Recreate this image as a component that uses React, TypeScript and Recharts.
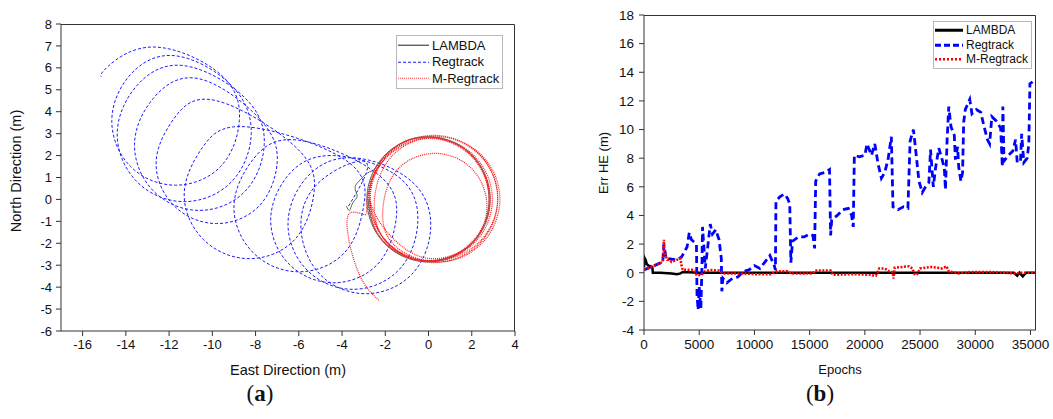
import React from "react";
import { Legend, Line, LineChart, XAxis, YAxis } from "recharts";

// (a) horizontal trajectory, metres
const EAST_TICKS = [-16, -14, -12, -10, -8, -6, -4, -2, 0, 2, 4];
const NORTH_TICKS = [-6, -5, -4, -3, -2, -1, 0, 1, 2, 3, 4, 5, 6, 7, 8];

const LAMBDA_E = [-3.8, -3.65, -3.5, -3.3, -3.4, -3.15, -2.9, -2.6, -2.47, -1.43, 0, 1.43, 2.47, 2.85, 2.47, 1.43, 0, -1.43, -2.47, -2.85, -2.47, -1.43, 0, 1.43, 2.45, 2.8, 2.45, 1.4, 0, -1.4, -2.45, -2.8];
const LAMBDA_N = [-0.3, -0.5, -0.15, 0.15, 0.55, 0.9, 1.15, 1.3, 1.43, 2.47, 2.85, 2.47, 1.43, 0, -1.43, -2.47, -2.85, -2.47, -1.43, 0, 1.43, 2.47, 2.85, 2.47, 1.4, 0, -1.4, -2.45, -2.8, -2.45, -1.4, 0];

const REG_E = [
  -3.7, -2.9, -5.02, -5.9, -5.02, -2.9, -0.78, 0.1, -0.78,
  -3.5, -5.62, -6.5, -5.62, -3.5, -1.38, -0.5, -1.38,
  -4.4, -6.45, -7.3, -6.45, -4.4, -2.35, -1.5, -2.35,
  -6.0, -8.12, -9.0, -8.12, -6.0, -3.88, -3.0, -3.88,
  -8.3, -10.42, -11.3, -10.42, -8.3, -6.18, -5.3, -6.18,
  -9.8, -11.78, -12.6, -11.78, -9.8, -7.82, -7.0, -7.82,
  -10.6, -12.72, -13.6, -12.72, -10.6, -8.48, -7.6, -8.48,
  -11.3, -13.49, -14.4, -13.49, -11.3, -9.11, -8.2, -9.11,
  -11.7, -13.79, -14.65, -13.79, -11.7, -9.61, -8.75, -9.61,
  -12.7, -14.82, -15.15,
];
const REG_N = [
  -0.3, 1.7, 0.82, -1.3, -3.42, -4.3, -3.42, -1.3, 0.82,
  1.9, 1.02, -1.1, -3.22, -4.1, -3.22, -1.1, 1.02,
  2.0, 1.15, -0.9, -2.95, -3.8, -2.95, -0.9, 1.15,
  2.7, 1.82, -0.3, -2.42, -3.3, -2.42, -0.3, 1.82,
  3.3, 2.42, 0.3, -1.82, -2.7, -1.82, 0.3, 2.42,
  4.5, 3.68, 1.7, -0.28, -1.1, -0.28, 1.7, 3.68,
  5.5, 4.62, 2.5, 0.38, -0.5, 0.38, 2.5, 4.62,
  6.1, 5.19, 3.0, 0.81, -0.1, 0.81, 3.0, 5.19,
  6.55, 5.69, 3.6, 1.51, 0.65, 1.51, 3.6, 5.69,
  6.95, 6.07, 5.6,
];

const MREG_E = [
  -2.3, -3.0, -3.5, -3.75, -3.6, -2.9,
  -2.85, -2.0, 0, 2.0, 2.85, 2.0, 0, -2.0,
  -2.8, -1.92, 0.2, 2.32, 3.2, 2.32, 0.2, -1.92,
  -2.5, -1.65, 0.4, 2.45, 3.3, 2.45, 0.4, -1.65,
  -2.1, -1.4, 0.3, 2.0, 2.7, 2.0, 0.3, -1.4,
  -2.7, -1.9, 0.05, 2.0, 2.8, 2.0, 0.05, -1.9,
  -2.7, -1.84, 0.25, 2.34, 3.2, 2.34, 0.25, -1.84,
  -2.75, -1.92, 0.1, 2.12, 2.95, 2.12, 0.1, -1.92, -2.75,
];
const MREG_N = [
  -4.6, -3.8, -2.6, -1.4, -0.6, -0.7,
  0, 2.0, 2.82, 2.0, 0, -2.0, -2.82, -2.0,
  0.05, 2.07, 2.9, 2.07, 0.05, -1.97, -2.8, -1.97,
  0, 2.02, 2.85, 2.02, 0, -2.02, -2.85, -2.02,
  -0.3, 1.4, 2.1, 1.4, -0.3, -2.0, -2.7, -2.0,
  0, 1.95, 2.78, 1.95, 0, -1.95, -2.78, -1.95,
  0.02, 2.07, 2.92, 2.07, 0.02, -2.03, -2.88, -2.03,
  0, 1.98, 2.8, 1.98, 0, -1.98, -2.8, -1.98, 0.05,
];

// (b) horizontal error against epoch
const EPOCH_TICKS = [0, 5000, 10000, 15000, 20000, 25000, 30000, 35000];
const ERR_TICKS = [-4, -2, 0, 2, 4, 6, 8, 10, 12, 14, 16, 18];

const LAMBDA_EPOCH = [0, 80, 150, 250, 400, 600, 750, 800, 1500, 2500, 3000, 3300, 3500, 5000, 10000, 15000, 20000, 25000, 30000, 33500, 33800, 34000, 34300, 34600, 35500];
const LAMBDA_ERR = [0.4, 1.0, 0.9, 0.6, 0.5, 0.45, 0.4, 0.0, 0.0, -0.05, -0.1, -0.05, 0.05, 0.0, 0.0, 0.0, 0.0, 0.0, 0.0, 0.0, -0.2, 0.0, -0.25, 0.0, 0.0];

const REG_EPOCH = [0, 1700, 1800, 2000, 3000, 3400, 3900, 4100, 4300, 4600, 4750, 4800, 4900, 5000, 5150, 5250, 5300, 5450, 5550, 5800, 6000, 6200, 6500, 6800, 7000, 7050, 7150, 7500, 8000, 8500, 9000, 9500, 10000, 10500, 11000, 11400, 11800, 11900, 11950, 12300, 12700, 13000, 13200, 13300, 13450, 14000, 14500, 15000, 15300, 15450, 15550, 15900, 16400, 16800, 16900, 17000, 17500, 18000, 18500, 18800, 18950, 19050, 19500, 20000, 20200, 20600, 20900, 21200, 21500, 21800, 22100, 22400, 22550, 23000, 23500, 23900, 24100, 24400, 24600, 24900, 25200, 25500, 25800, 25950, 26200, 26400, 26700, 27000, 27200, 27300, 27450, 27600, 27800, 28100, 28200, 28400, 28500, 28700, 28850, 28950, 29100, 29500, 29700, 30100, 30500, 30800, 31100, 31300, 31500, 31900, 32300, 32450, 32500, 32600, 33000, 33400, 33650, 33800, 34100, 34200, 34400, 34700, 34850, 34950, 35300, 35500];
const REG_ERR = [0.2, 0.75, 2.0, 1.0, 0.9, 1.1, 1.8, 2.8, 2.3, 2.1, 2.0, -1.5, -2.6, -1.0, -2.5, 0.5, 3.2, 1.5, 0.3, 2.0, 3.4, 2.7, 3.0, 2.3, 1.0, -1.3, -0.4, -0.7, -0.4, -0.3, 0.1, 0.2, 0.5, 0.3, 0.8, 1.2, 0.5, 0.2, 5.0, 5.3, 5.5, 5.2, 4.8, 0.7, 2.2, 2.5, 2.5, 2.7, 2.6, 1.7, 6.4, 6.9, 7.0, 7.2, 2.6, 3.7, 4.0, 4.4, 4.5, 4.0, 3.2, 8.2, 8.1, 8.2, 9.0, 8.2, 9.0, 7.6, 6.6, 7.0, 7.9, 9.5, 4.6, 4.4, 4.6, 4.5, 9.2, 10.0, 8.6, 6.4, 5.6, 6.0, 6.3, 8.6, 6.0, 7.3, 8.7, 7.9, 7.3, 5.8, 9.3, 11.6, 10.2, 9.6, 7.9, 8.8, 7.4, 6.4, 7.0, 10.5, 11.4, 12.1, 11.1, 11.4, 11.2, 10.2, 9.3, 9.0, 10.9, 10.6, 10.1, 7.4, 11.6, 7.8, 8.2, 8.5, 9.3, 7.7, 7.8, 9.7, 7.7, 8.0, 9.0, 13.2, 13.4, 13.4];

const MREG_EPOCH = [0, 1700, 1800, 1850, 1950, 2100, 2300, 2500, 3300, 3400, 3500, 4500, 4800, 5200, 5500, 6000, 6800, 7200, 9000, 10000, 11500, 12000, 13000, 13300, 15300, 15500, 16900, 17100, 19000, 20400, 21000, 21300, 21800, 22200, 22500, 22600, 22700, 24000, 24300, 24500, 24700, 25000, 26000, 26500, 27000, 27400, 27600, 28500, 29500, 31500, 32500, 33500, 34200, 35500];
const MREG_ERR = [0.2, 0.75, 2.3, 1.5, 1.2, 0.9, 0.9, 0.75, 1.0, 0.5, 0.2, 0.2, -0.2, -0.15, 0.1, 0.2, 0.15, -0.05, -0.05, -0.1, -0.1, 0.1, 0.1, -0.05, -0.05, 0.15, 0.15, -0.15, -0.1, -0.15, -0.2, 0.3, 0.3, 0.1, 0.05, -0.4, 0.35, 0.45, 0.3, -0.1, -0.15, 0.3, 0.4, 0.35, 0.3, 0.45, 0.1, -0.05, 0.05, 0.05, 0.0, -0.05, 0.0, 0.0];

const FONT = "'Liberation Sans', Arial, sans-serif";
const AXIS = "#333";

const toPts = (xs: number[], ys: number[]) => xs.map((x, i) => ({ x, y: ys[i] }));

const lambdaTrack = toPts(LAMBDA_E, LAMBDA_N);
const regTrack = toPts(REG_E, REG_N);
const mregTrack = toPts(MREG_E, MREG_N);
const lambdaErr = toPts(LAMBDA_EPOCH, LAMBDA_ERR);
const regErr = toPts(REG_EPOCH, REG_ERR);
const mregErr = toPts(MREG_EPOCH, MREG_ERR);

type Sample = { name: string; color: string; width: number; dash?: string };

function LegendBox({ items, sampleW, rowH, fontSize }: { items: Sample[]; sampleW: number; rowH: number; fontSize: number }) {
  return (
    <div style={{ border: "1px solid #b8b8b8", background: "#fff", padding: "1px 3px 1px 1px", fontFamily: FONT, fontSize, color: "#111" }}>
      {items.map((it) => (
        <div key={it.name} style={{ display: "flex", alignItems: "center", height: rowH, whiteSpace: "nowrap" }}>
          <svg width={sampleW} height={rowH} style={{ marginRight: 3 }}>
            <line x1={0} x2={sampleW} y1={rowH / 2} y2={rowH / 2} stroke={it.color} strokeWidth={it.width} strokeDasharray={it.dash} />
          </svg>
          <span>{it.name}</span>
        </div>
      ))}
    </div>
  );
}

function YTitle({ cx, cy, text, size }: { cx: number; cy: number; text: string; size: number }) {
  return (
    <text x={cx} y={cy} transform={`rotate(-90 ${cx} ${cy})`} textAnchor="middle" dominantBaseline="central" fontFamily={FONT} fontSize={size} fill="#111">
      {text}
    </text>
  );
}

// top and right edges of both plot boxes, drawn as one svg layer on top
function Frames() {
  return (
    <svg width={1053} height={419} style={{ position: "absolute", left: 0, top: 0, zIndex: 5, pointerEvents: "none" }}>
      <polyline points="61,24.5 514.5,24.5 514.5,331" fill="none" stroke={AXIS} strokeWidth={1} />
      <polyline points="644,15.5 1035.5,15.5 1035.5,330" fill="none" stroke={AXIS} strokeWidth={1} />
    </svg>
  );
}

function TrajectoryChart() {
  return (
    <LineChart width={530} height={390} margin={{ top: 24, right: 15, left: 0, bottom: 0 }}>
      <XAxis type="number" dataKey="x" domain={[-17, 4]} allowDataOverflow ticks={EAST_TICKS} height={59} tickSize={5} tickMargin={4}
        tick={{ fontSize: 13, fontFamily: FONT, fill: "#111" }} stroke={AXIS}
        label={{ value: "East Direction (m)", position: "insideBottom", offset: 15, fontSize: 14.5, fontFamily: FONT, fill: "#111" }} />
      <YAxis type="number" dataKey="y" domain={[-6, 8]} allowDataOverflow ticks={NORTH_TICKS} width={61} tickSize={5} tickMargin={4}
        tick={{ fontSize: 13, fontFamily: FONT, fill: "#111" }} stroke={AXIS}
        label={<YTitle cx={16} cy={171} text="North Direction (m)" size={14.5} />} />
      <Legend layout="vertical" align="center" verticalAlign="middle" wrapperStyle={{ left: 396, top: 35, width: "auto" }}
        content={() => (
          <LegendBox sampleW={31} rowH={16.5} fontSize={13} items={[
            { name: "LAMBDA", color: "#444", width: 1.2 },
            { name: "Regtrack", color: "#1a1aff", width: 1, dash: "3 2" },
            { name: "M-Regtrack", color: "#ff4040", width: 1, dash: "1 1" },
          ]} />
        )} />
      <Line data={regTrack} dataKey="y" type="natural" stroke="#1a1aff" strokeWidth={1} strokeDasharray="3 2" dot={false} isAnimationActive={false} />
      <Line data={lambdaTrack} dataKey="y" type="natural" stroke="#666" strokeWidth={1} dot={false} isAnimationActive={false} />
      <Line data={mregTrack} dataKey="y" type="natural" stroke="#ff1a1a" strokeWidth={1.2} strokeDasharray="1 1" dot={false} isAnimationActive={false} />
    </LineChart>
  );
}

function ErrorChart() {
  return (
    <LineChart width={493} height={390} margin={{ top: 15, right: 17, left: 0, bottom: 0 }}>
      <XAxis type="number" dataKey="x" domain={[0, 35500]} allowDataOverflow ticks={EPOCH_TICKS} height={60} tickSize={5} tickMargin={4}
        tick={{ fontSize: 13.5, fontFamily: FONT, fill: "#111" }} stroke={AXIS}
        label={{ value: "Epochs", position: "insideBottom", offset: 16, fontSize: 13, fontFamily: FONT, fill: "#111" }} />
      <YAxis type="number" dataKey="y" domain={[-4, 18]} allowDataOverflow ticks={ERR_TICKS} width={84} tickSize={5} tickMargin={5}
        tick={{ fontSize: 13.5, fontFamily: FONT, fill: "#111" }} stroke={AXIS}
        label={<YTitle cx={43} cy={163} text="Err HE (m)" size={13} />} />
      <Legend layout="vertical" align="center" verticalAlign="middle" wrapperStyle={{ left: 373, top: 21, width: "auto" }}
        content={() => (
          <LegendBox sampleW={28} rowH={14.5} fontSize={12} items={[
            { name: "LAMBDA", color: "#000", width: 3 },
            { name: "Regtrack", color: "#0000ff", width: 3, dash: "6 3" },
            { name: "M-Regtrack", color: "#ff0000", width: 2.5, dash: "2 2" },
          ]} />
        )} />
      <Line data={lambdaErr} dataKey="y" type="linear" stroke="#000" strokeWidth={2.5} dot={false} isAnimationActive={false} />
      <Line data={regErr} dataKey="y" type="linear" stroke="#0000ff" strokeWidth={2.8} strokeDasharray="7 4" dot={false} isAnimationActive={false} />
      <Line data={mregErr} dataKey="y" type="linear" stroke="#ff0000" strokeWidth={2.5} strokeDasharray="2 1.5" dot={false} isAnimationActive={false} />
    </LineChart>
  );
}

const caption: React.CSSProperties = {
  position: "absolute",
  top: 381,
  fontFamily: "'Liberation Serif', 'DejaVu Serif', serif",
  fontSize: 23,
  color: "#111",
  transform: "translateX(-50%)",
};

export default function App() {
  return (
    <div style={{ position: "absolute", left: 0, top: 0, width: 1053, height: 419, background: "#fff", overflow: "hidden" }}>
      <div style={{ position: "absolute", left: 0, top: 0 }}>
        <TrajectoryChart />
      </div>
      <div style={{ position: "absolute", left: 560, top: 0 }}>
        <ErrorChart />
      </div>
      <Frames />
      <div style={{ ...caption, left: 260 }}>(<b>a</b>)</div>
      <div style={{ ...caption, left: 820 }}>(<b>b</b>)</div>
    </div>
  );
}
